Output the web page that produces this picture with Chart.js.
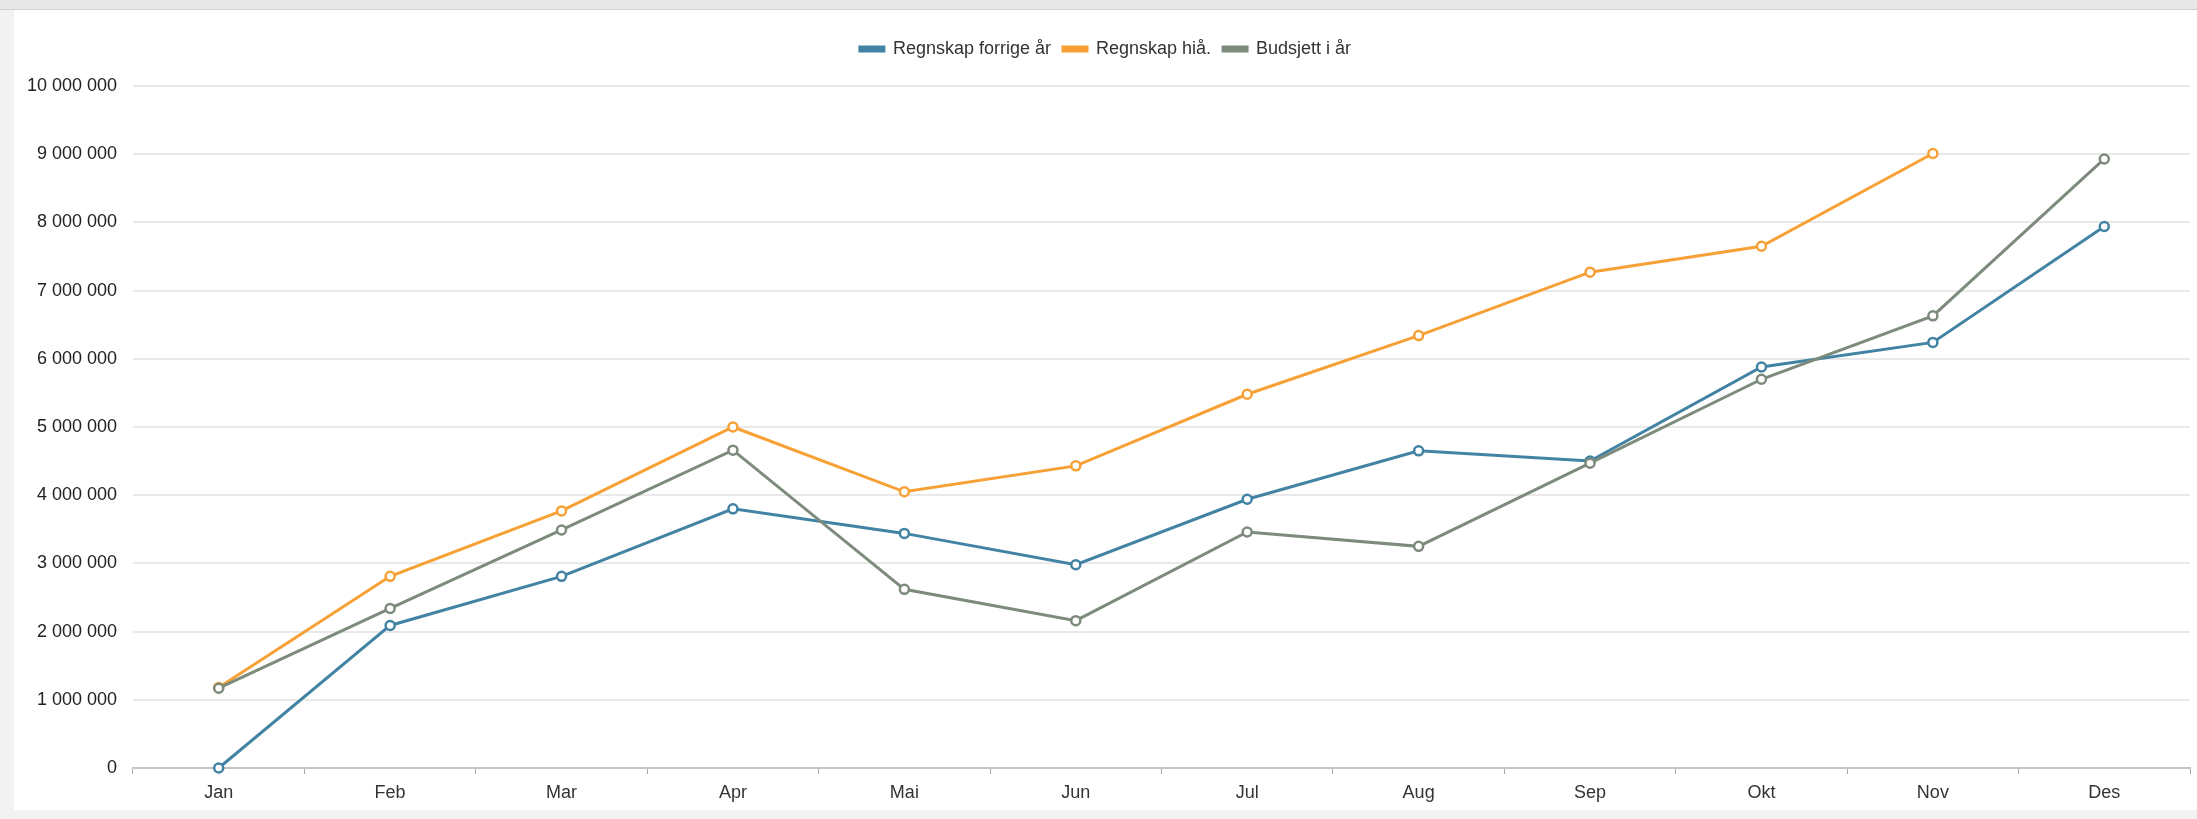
<!DOCTYPE html>
<html>
<head>
<meta charset="utf-8">
<script src="https://cdn.jsdelivr.net/npm/chart.js@4/dist/chart.umd.min.js"></script>
<style>
  html, body { margin: 0; padding: 0; }
  body { width: 2197px; height: 819px; background: #f2f2f2; position: relative; overflow: hidden; }
  .topbar { position: absolute; left: 0; top: 0; width: 2197px; height: 9px; background: #e8e8e8; border-bottom: 1px solid #cfcfcf; }
  .panel { position: absolute; left: 14px; top: 10px; width: 2183px; height: 800px; background: #fff; }
</style>
</head>
<body>
<div class="topbar"></div>
<div class="panel"><canvas id="chart"></canvas></div>
<script>
// månedene langs x-aksen
const months = ['Jan', 'Feb', 'Mar', 'Apr', 'Mai', 'Jun', 'Jul', 'Aug', 'Sep', 'Okt', 'Nov', 'Des'];

// verdier
const regnskapForrigeAar = [0, 2090000, 2810000, 3800000, 3440000, 2980000, 3940000, 4650000, 4500000, 5880000, 6240000, 7940000];
const regnskapHia = [1180000, 2810000, 3770000, 5000000, 4050000, 4430000, 5480000, 6340000, 7270000, 7650000, 9010000, null];
const budsjettIAar = [1170000, 2340000, 3490000, 4660000, 2620000, 2160000, 3460000, 3250000, 4470000, 5700000, 6630000, 8930000];

const seriesNames = ['Regnskap forrige år', 'Regnskap hiå.', 'Budsjett i år'];
const yMax = 10000000;
const yStep = 1000000;

const BLUE = '#4283a3';
const ORANGE = '#f7a035';
const GREEN = '#7c8b7b';

Chart.defaults.font.family = '"Liberation Sans", Arial, sans-serif';
Chart.defaults.font.size = 18;
Chart.defaults.color = '#333';

// fast høyde på forklaringen slik at plottet starter på riktig sted
const legendSpacing = {
    id: 'legendSpacing',
    beforeInit(chart) {
        const origFit = chart.legend.fit;
        chart.legend.fit = function() {
            origFit.call(this);
            this.height = 58;
        };
    }
};

function lineSet(label, data, color, order) {
    return {
        label: label,
        data: data,
        borderColor: color,
        backgroundColor: color,
        borderWidth: 3,
        pointRadius: 4.5,
        pointHoverRadius: 4.5,
        pointBorderWidth: 2.5,
        pointBackgroundColor: '#fff',
        pointBorderColor: color,
        tension: 0,
        fill: false,
        clip: false,
        order: order
    };
}

const ctx = document.getElementById('chart').getContext('2d');
new Chart(ctx, {
    type: 'line',
    data: {
        labels: months,
        datasets: [
            lineSet(seriesNames[0], regnskapForrigeAar, BLUE, 2),
            lineSet(seriesNames[1], regnskapHia, ORANGE, 1),
            lineSet(seriesNames[2], budsjettIAar, GREEN, 0)
        ]
    },
    options: {
        responsive: true,
        maintainAspectRatio: false,
        animation: false,
        layout: { padding: { top: 18, left: 0, right: 0, bottom: 0 } },
        plugins: {
            legend: {
                position: 'top',
                labels: {
                    boxWidth: 24,
                    boxHeight: 4,
                    padding: 12,
                    color: '#333',
                    font: { size: 18 },
                    sort: (a, b) => a.datasetIndex - b.datasetIndex
                }
            },
            tooltip: { enabled: false }
        },
        scales: {
            x: {
                offset: true,
                grid: {
                    offset: true,
                    drawOnChartArea: false,
                    drawTicks: true,
                    tickLength: 6,
                    color: '#aaa',
                    lineWidth: 1
                },
                border: { display: true, color: '#c4c4c4', width: 2 },
                ticks: { padding: 8, color: '#333', maxRotation: 0 },
                afterFit(scale) { scale.height = 42; }
            },
            y: {
                min: 0,
                max: yMax,
                grid: {
                    drawTicks: false,
                    color: '#e9e9e9',
                    lineWidth: 2
                },
                border: { display: false },
                ticks: {
                    stepSize: yStep,
                    padding: 16,
                    color: '#222',
                    callback: function(v) {
                        return String(v).replace(/\B(?=(\d{3})+(?!\d))/g, ' ');
                    }
                },
                afterFit(scale) { scale.width = 119; }
            }
        }
    },
    plugins: [legendSpacing]
});
</script>
</body>
</html>
